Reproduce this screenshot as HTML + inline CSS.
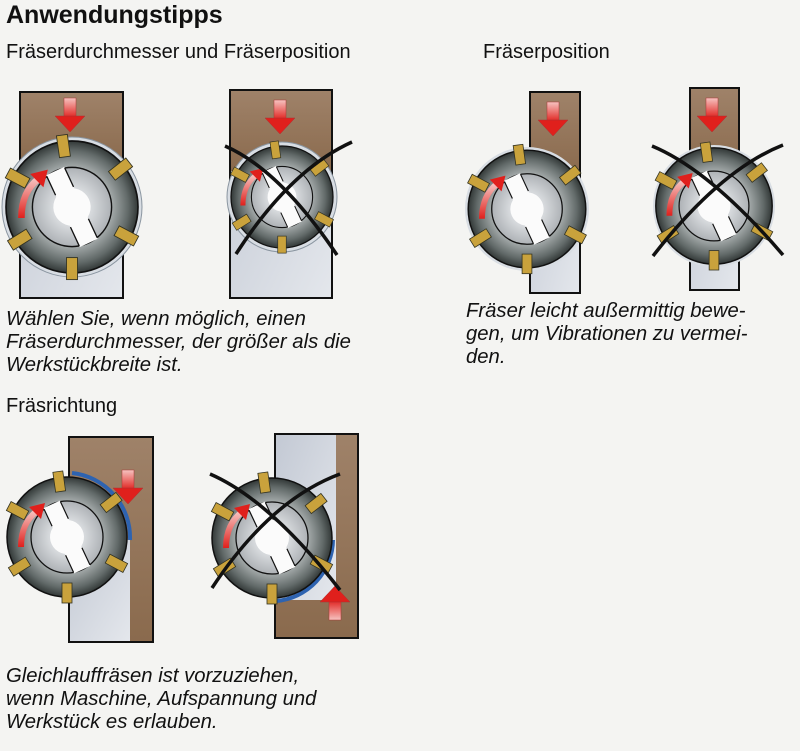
<!DOCTYPE html>
<html><head><meta charset="utf-8"><style>
body{margin:0;background:#f4f4f2;width:800px;height:751px;overflow:hidden;position:relative;font-family:"Liberation Sans",sans-serif;color:#111}
.t{position:absolute;white-space:nowrap}
.i{font-style:italic;font-size:20.3px;line-height:23px}
svg{position:absolute;left:0;top:0}
</style></head><body>
<svg width="800" height="751" viewBox="0 0 800 751">
<defs>
<radialGradient id="g" cx="0.5" cy="0.5" r="0.5">
<stop offset="0.6" stop-color="#a4aaaa"/><stop offset="0.85" stop-color="#626a69"/><stop offset="1" stop-color="#323837"/></radialGradient>
<radialGradient id="gi" cx="0.5" cy="0.5" r="0.5"><stop offset="0.5" stop-color="#d6d9dc"/><stop offset="1" stop-color="#aeb2b6"/></radialGradient>
<linearGradient id="br" x1="0" y1="0" x2="0" y2="1"><stop offset="0" stop-color="#9f8269"/><stop offset="1" stop-color="#8a6a4d"/></linearGradient>
<linearGradient id="bl" x1="0" y1="0" x2="1" y2="1"><stop offset="0" stop-color="#c3c9d4"/><stop offset="1" stop-color="#e4e7ec"/></linearGradient>
<linearGradient id="ar" x1="0" y1="0" x2="0" y2="1"><stop offset="0" stop-color="#f6c3c0"/><stop offset="1" stop-color="#e0201c"/></linearGradient>
<g id="cut">
<circle r="60" fill="url(#g)" stroke="#111" stroke-width="1.5"/>
<circle r="36" fill="url(#gi)" stroke="#111" stroke-width="1.3"/>
<g transform="rotate(-25)"><rect x="-9" y="-36" width="18" height="72" fill="#fbfbfb"/><circle r="17" fill="#fbfbfb"/>
<path d="M-9 -35 L-9 -16 M9 -35 L9 -16 M-9 16 L-9 35 M9 16 L9 35" stroke="#111" stroke-width="1.2"/></g>
<g fill="#c9a23c" stroke="#332" stroke-width="0.8">
<rect x="-5" y="-66" width="10" height="20" transform="rotate(-8)"/>
<rect x="-5" y="-66" width="10" height="20" transform="rotate(52)"/>
<rect x="-5" y="-66" width="10" height="20" transform="rotate(118)"/>
<rect x="-5" y="-66" width="10" height="20" transform="rotate(180)"/>
<rect x="-5" y="-66" width="10" height="20" transform="rotate(238)"/>
<rect x="-5" y="-66" width="10" height="20" transform="rotate(298)"/>
</g>
<path d="M-46 10 Q-46 -14 -30 -26" stroke="url(#ar)" stroke-width="6" fill="none"/>
<polygon points="-38,-30 -22,-34 -26,-18" fill="#e0201c"/>
</g>
<g id="dn"><rect x="-6" y="-20" width="12" height="20" fill="url(#ar)" stroke="#a33" stroke-width="0.5"/><polygon points="-15,-2 15,-2 0,14" fill="#e0201c" stroke="#a33" stroke-width="0.5"/></g>
</defs>

<!-- 1 -->
<rect x="20" y="92" width="103" height="206" fill="url(#bl)" stroke="#111" stroke-width="2"/>
<rect x="21" y="93" width="101" height="72" fill="url(#br)"/>
<circle cx="72" cy="207" r="70" fill="#d8dde3" stroke="#8a95a0"/>
<use href="#cut" transform="translate(72,207) scale(1.1)"/>
<use href="#dn" transform="translate(70,118)"/>
<!-- 2 -->
<rect x="230" y="90" width="102" height="208" fill="url(#bl)" stroke="#111" stroke-width="2"/>
<rect x="231" y="91" width="100" height="80" fill="url(#br)"/>
<circle cx="282" cy="197" r="55" fill="#d8dde3" stroke="#8a95a0"/>
<use href="#cut" transform="translate(282,197) scale(0.85)"/>
<use href="#dn" transform="translate(280,120)"/>
<path d="M225 146 Q280 170 337 255 M236 254 Q290 170 352 142" stroke="#111" stroke-width="3.5" fill="none"/>
<!-- 3 -->
<rect x="530" y="92" width="50" height="201" fill="url(#bl)" stroke="#111" stroke-width="2"/>
<rect x="531" y="93" width="48" height="82" fill="url(#br)"/>
<circle cx="527" cy="209" r="62" fill="#d8dde3"/>
<use href="#cut" transform="translate(527,209) scale(0.98)"/>
<use href="#dn" transform="translate(553,122)"/>
<!-- 4 -->
<rect x="690" y="88" width="49" height="202" fill="url(#bl)" stroke="#111" stroke-width="2"/>
<rect x="691" y="89" width="47" height="84" fill="url(#br)"/>
<circle cx="714" cy="206" r="61" fill="#d8dde3"/>
<use href="#cut" transform="translate(714,206) scale(0.97)"/>
<use href="#dn" transform="translate(712,118)"/>
<path d="M652 146 Q710 170 783 255 M653 256 Q720 170 783 145" stroke="#111" stroke-width="3.5" fill="none"/>
<!-- 5 -->
<rect x="69" y="437" width="84" height="205" fill="url(#br)" stroke="#111" stroke-width="2"/>
<rect x="70" y="540" width="60" height="101" fill="url(#bl)"/>
<path d="M72 473 A65 65 0 0 1 130 540" stroke="#2e63b0" stroke-width="4" fill="none"/>
<use href="#cut" transform="translate(67,537) scale(1)"/>
<use href="#dn" transform="translate(128,490)"/>
<!-- 6 -->
<rect x="275" y="434" width="83" height="204" fill="url(#br)" stroke="#111" stroke-width="2"/>
<rect x="276" y="435" width="60" height="165" fill="url(#bl)"/>
<path d="M333 540 A62 62 0 0 1 276 601" stroke="#2e63b0" stroke-width="4" fill="none"/>
<use href="#cut" transform="translate(272,538) scale(1)"/>
<g transform="translate(335,600) rotate(180)"><use href="#dn"/></g>
<path d="M210 474 Q270 500 340 590 M212 588 Q270 500 340 474" stroke="#111" stroke-width="3.5" fill="none"/>
</svg>
<div class="t" style="left:6px;top:1px;font-size:25px;font-weight:bold">Anwendungstipps</div>
<div class="t" style="left:6px;top:41px;font-size:20px">Fräserdurchmesser und Fräserposition</div>
<div class="t" style="left:483px;top:41px;font-size:20px">Fräserposition</div>
<div class="t i" style="left:6px;top:308px">Wählen Sie, wenn möglich, einen<br>Fräserdurchmesser, der größer als die<br>Werkstückbreite ist.</div>
<div class="t i" style="left:466px;top:300px">Fräser leicht außermittig bewe-<br>gen, um Vibrationen zu vermei-<br>den.</div>
<div class="t" style="left:6px;top:395px;font-size:20px">Fräsrichtung</div>
<div class="t i" style="left:6px;top:665px">Gleichlauffräsen ist vorzuziehen,<br>wenn Maschine, Aufspannung und<br>Werkstück es erlauben.</div>
</body></html>
